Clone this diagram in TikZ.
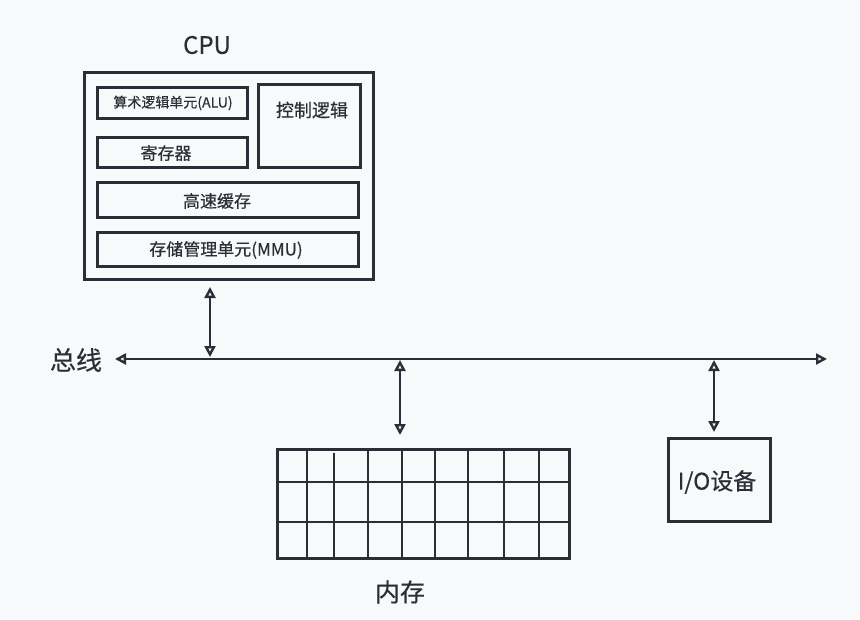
\documentclass[tikz,border=0pt]{standalone}
\usepackage{fontspec}
\setmainfont[FakeBold=0.4]{Noto Sans CJK SC}
\usetikzlibrary{arrows.meta}
\definecolor{bg}{HTML}{F8F9FA}
\definecolor{ink}{HTML}{2B2E36}
\begin{document}
\begin{tikzpicture}[x=1pt,y=-1pt,
  box/.style={draw=ink, line width=3pt, inner sep=0pt, fill=none},
  lbl/.style={text=ink, inner sep=0pt},
  conn/.style={draw=ink, line width=2.8pt, {Triangle[open,length=11pt,width=11pt,fill=bg,line width=2.4pt]}-{Triangle[open,length=11pt,width=11pt,fill=bg,line width=2.4pt]}},
  gridline/.style={draw=ink, line width=2.8pt}
]
\fill[bg] (0,0) rectangle (860,619);
\useasboundingbox (0,0) rectangle (860,619);

% CPU
\node[lbl, font=\fontsize{24}{28}\selectfont] (cputxt) at (207,45) {CPU};
\node[box, minimum width=289pt, minimum height=207pt] (cpu) at (228.5,175.5) {};
\node[box, minimum width=150pt, minimum height=31pt] (alu) at (172,102.5) {};
\node[lbl, font=\fontsize{14}{17}\selectfont] (alutxt) at (173,103) {算术逻辑单元(ALU)};
\node[box, minimum width=150pt, minimum height=30pt] (reg) at (172,152) {};
\node[lbl, font=\fontsize{17}{20}\selectfont] (regtxt) at (166,153) {寄存器};
\node[box, minimum width=102pt, minimum height=83pt] (ctrl) at (309,125.5) {};
\node[lbl, font=\fontsize{18}{21}\selectfont] (ctrltxt) at (312,110) {控制逻辑};
\node[box, minimum width=261pt, minimum height=35pt] (cache) at (227.5,199.5) {};
\node[lbl, font=\fontsize{17}{20}\selectfont] (cachetxt) at (217,201) {高速缓存};
\node[box, minimum width=261pt, minimum height=34pt] (mmu) at (227.5,249) {};
\node[lbl, font=\fontsize{17}{20}\selectfont] (mmutxt) at (226,250) {存储管理单元(MMU)};

% Bus
\node[lbl, font=\fontsize{26}{30}\selectfont] (bustxt) at (76,360) {总线};
\coordinate (busL) at (115,359);
\coordinate (busR) at (827,359);
\draw[conn] (busL) -- (busR);

% CPU <-> bus
\coordinate (cpuA) at (210,287);
\coordinate (cpuB) at (210,357);
\draw[conn] (cpuA) -- (cpuB);

% Memory
\node[box, minimum width=292pt, minimum height=109pt] (mem) at (423,503.5) {};
\foreach \xx in {307,368,402,435,468,504,539} {
  \draw[gridline] (\xx,449) -- (\xx,558);
}
\draw[gridline] (334,453) -- (334,558);
\draw[gridline] (277,482) -- (569,482);
\draw[gridline] (277,522) -- (569,522);
\node[lbl, font=\fontsize{25}{29}\selectfont] (memtxt) at (400,592) {内存};
\coordinate (memA) at (400,360);
\coordinate (memB) at (400,435);
\draw[conn] (memA) -- (memB);

% IO
\node[box, minimum width=102pt, minimum height=83pt] (io) at (719,479.5) {};
\node[lbl, font=\fontsize{23}{27}\selectfont] (iotxt) at (717,482) {I/O设备};
\coordinate (ioA) at (714,360);
\coordinate (ioB) at (714,432);
\draw[conn] (ioA) -- (ioB);
\end{tikzpicture}
\end{document}
